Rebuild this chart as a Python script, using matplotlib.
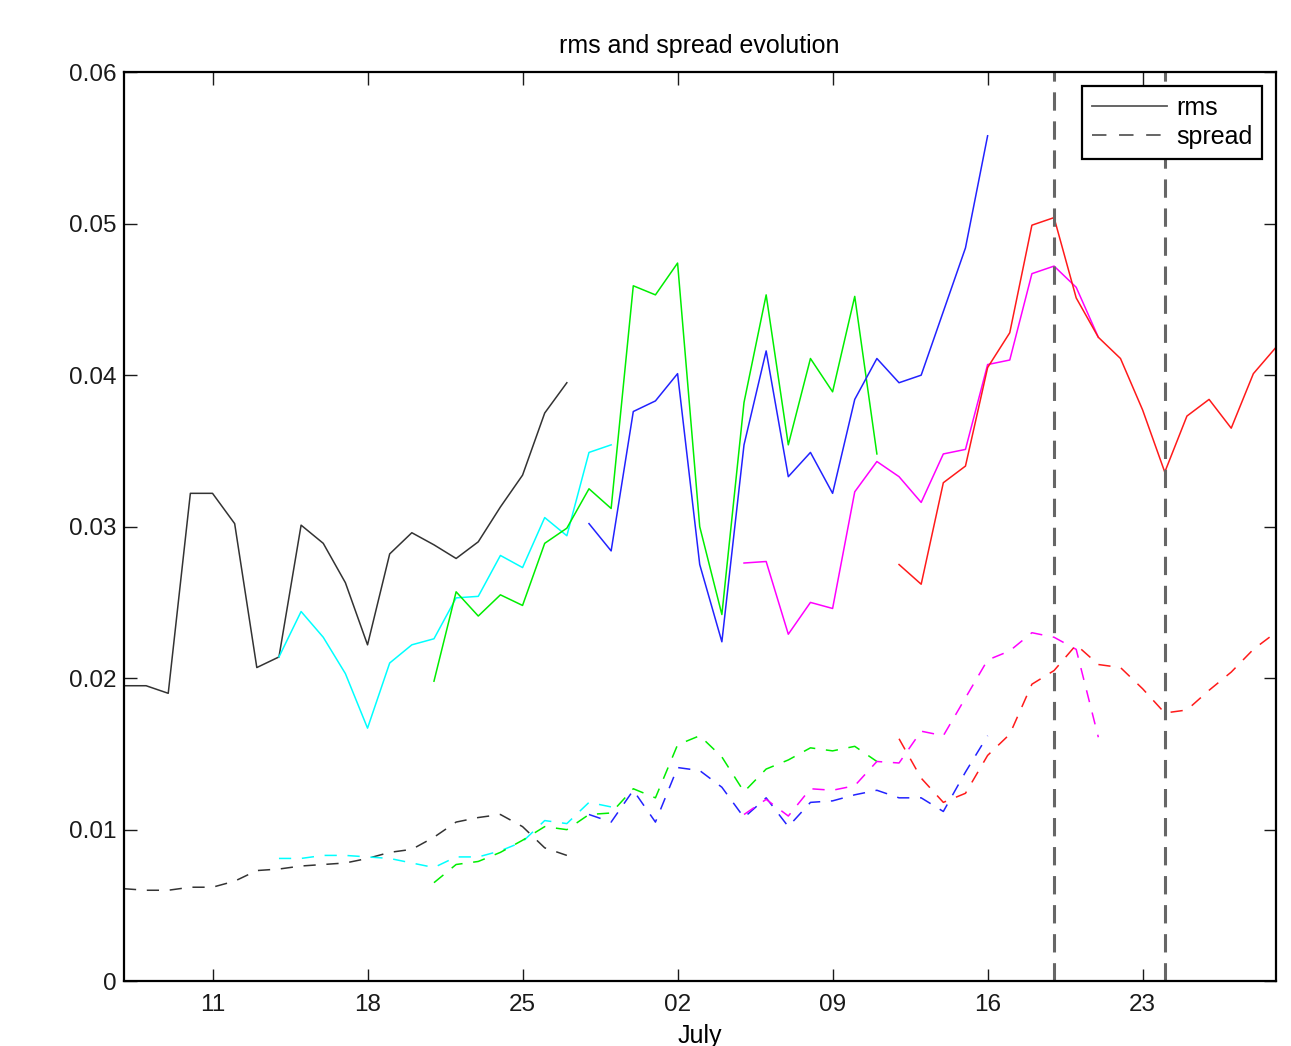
import numpy as np
import pandas as pd
import matplotlib
matplotlib.use('Agg')
import matplotlib.pyplot as plt
import matplotlib.dates as mdates

plt.rcParams['font.family'] = ['Liberation Sans', 'DejaVu Sans']

# rms curves (solid), one per forecast run
rms_black = [0.0195, 0.0195, 0.0190, 0.0322, 0.0322, 0.0302, 0.0207, 0.0214, 0.0301, 0.0289, 0.0263,
             0.0222, 0.0282, 0.0296, 0.0288, 0.0279, 0.0290, 0.0313, 0.0334, 0.0375, 0.0395]
rms_cyan = [0.0214, 0.0244, 0.0227, 0.0203, 0.0167, 0.0210, 0.0222, 0.0226, 0.0253, 0.0254, 0.0281,
            0.0273, 0.0306, 0.0294, 0.0349, 0.0354]
rms_green = [0.0198, 0.0257, 0.0241, 0.0255, 0.0248, 0.0289, 0.0299, 0.0325, 0.0312, 0.0459, 0.0453,
             0.0474, 0.0300, 0.0242, 0.0382, 0.0453, 0.0354, 0.0411, 0.0389, 0.0452, 0.0348]
rms_blue = [0.0302, 0.0284, 0.0376, 0.0383, 0.0401, 0.0275, 0.0224, 0.0354, 0.0416, 0.0333, 0.0349,
            0.0322, 0.0384, 0.0411, 0.0395, 0.0400, 0.0442, 0.0484, 0.0558]
rms_magenta = [0.0276, 0.0277, 0.0229, 0.0250, 0.0246, 0.0323, 0.0343, 0.0333, 0.0316, 0.0348, 0.0351,
               0.0407, 0.0410, 0.0467, 0.0472, 0.0458, 0.0425]
rms_red = [0.0275, 0.0262, 0.0329, 0.0340, 0.0405, 0.0428, 0.0499, 0.0504, 0.0451, 0.0425, 0.0411,
           0.0377, 0.0336, 0.0373, 0.0384, 0.0365, 0.0401, 0.0418]

# spread curves (dashed)
spr_black = [0.0061, 0.0060, 0.0060, 0.0062, 0.0062, 0.0066, 0.0073, 0.0074, 0.0076, 0.0077, 0.0078,
             0.0081, 0.0085, 0.0087, 0.0095, 0.0105, 0.0108, 0.0110, 0.0102, 0.0088, 0.0083]
spr_cyan = [0.0081, 0.0081, 0.0083, 0.0083, 0.0082, 0.0081, 0.0078, 0.0075, 0.0082, 0.0082, 0.0086,
            0.0092, 0.0106, 0.0104, 0.0118, 0.0115]
spr_green = [0.0065, 0.0077, 0.0079, 0.0085, 0.0093, 0.0102, 0.0100, 0.0110, 0.0111, 0.0127, 0.0121,
             0.0156, 0.0162, 0.0148, 0.0125, 0.0140, 0.0146, 0.0154, 0.0152, 0.0155, 0.0145]
spr_blue = [0.0110, 0.0105, 0.0126, 0.0105, 0.0141, 0.0139, 0.0128, 0.0108, 0.0121, 0.0102, 0.0118,
            0.0119, 0.0123, 0.0126, 0.0121, 0.0121, 0.0112, 0.0138, 0.0162]
spr_magenta = [0.0110, 0.0120, 0.0109, 0.0127, 0.0126, 0.0129, 0.0145, 0.0144, 0.0165, 0.0162, 0.0187,
               0.0212, 0.0218, 0.0230, 0.0227, 0.0219, 0.0161]
spr_red = [0.0160, 0.0134, 0.0118, 0.0124, 0.0149, 0.0163, 0.0196, 0.0205, 0.0222, 0.0209, 0.0207,
           0.0193, 0.0177, 0.0179, 0.0192, 0.0204, 0.0219, 0.0230]

runs = [
    ('2012-06-07', '0.2', rms_black, spr_black),
    ('2012-06-14', '#00ffff', rms_cyan, spr_cyan),
    ('2012-06-21', '#00ee00', rms_green, spr_green),
    ('2012-06-28', '#2222ff', rms_blue, spr_blue),
    ('2012-07-05', '#ff00ff', rms_magenta, spr_magenta),
    ('2012-07-12', '#ff1a1a', rms_red, spr_red),
]
event_days = ['2012-07-19', '2012-07-24']
tick_days = ['2012-06-11', '2012-06-18', '2012-06-25', '2012-07-02', '2012-07-09', '2012-07-16', '2012-07-23']

fig = plt.figure(figsize=(12.91, 10.46), dpi=100)
ax = fig.add_axes([0.096, 0.062, 0.892, 0.869])

for start, col, rms, spr in runs:
    d = pd.date_range(start, periods=len(rms), freq='D')
    ax.plot(d, rms, color=col, lw=1.1)
    d = pd.date_range(start, periods=len(spr), freq='D')
    ax.plot(d, spr, color=col, lw=1.1, dashes=(8, 7))

for ev in event_days:
    ax.axvline(pd.Timestamp(ev), color='0.4', lw=2.2, dashes=(6, 3.5))

ax.set_xlim(pd.Timestamp('2012-06-07'), pd.Timestamp('2012-07-29'))
ax.set_ylim(0, 0.06)
ax.set_xticks(pd.to_datetime(tick_days))
ax.xaxis.set_major_formatter(mdates.DateFormatter('%d'))
ax.set_yticks(np.arange(0, 0.061, 0.01))
ax.set_yticklabels(['0', '0.01', '0.02', '0.03', '0.04', '0.05', '0.06'])
ax.tick_params(direction='in', top=True, right=True, length=9, width=1, labelsize=17.5, colors='0.1')
ax.tick_params(axis='x', pad=9)
ax.tick_params(axis='y', pad=5)
for s in ax.spines.values():
    s.set_linewidth(1.6)

ax.set_title('rms and spread evolution', fontsize=18, pad=14)
ax.set_xlabel('July', fontsize=18, labelpad=6)

h1, = ax.plot([], [], color='0.35', lw=1.3)
h2, = ax.plot([], [], color='0.35', lw=1.3, dashes=(8, 7))
leg = ax.legend([h1, h2], ['rms', 'spread'], loc='upper right', fontsize=18, frameon=True,
                fancybox=False, handlelength=3.0, handletextpad=0.35, borderpad=0.4,
                labelspacing=0.2, borderaxespad=0, bbox_to_anchor=(0.9887, 0.9846), framealpha=1)
leg.get_frame().set_edgecolor('black')
leg.get_frame().set_linewidth(1.6)

fig.savefig('out.png', dpi=100)
